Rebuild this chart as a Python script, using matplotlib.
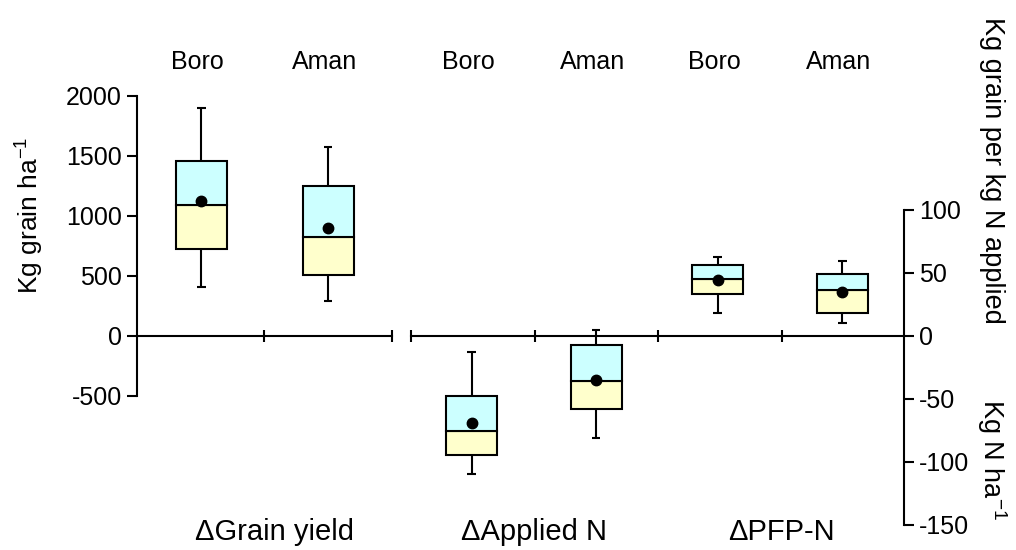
import matplotlib
matplotlib.use("Agg")
import matplotlib.pyplot as plt
from matplotlib.transforms import blended_transform_factory

plt.rcParams['font.family'] = ['Liberation Sans', 'DejaVu Sans']
plt.rcParams['mathtext.default'] = 'regular'

# ---- data ----
seasons = ["Boro", "Aman", "Boro", "Aman", "Boro", "Aman"]
groups = ["\u0394Grain yield", "\u0394Applied N", "\u0394PFP-N"]
# Grain yield (kg grain/ha, left axis)
gy_whislo = [408, 292]
gy_q1 = [725, 506]
gy_med = [1089, 825]
gy_q3 = [1458, 1250]
gy_whishi = [1900, 1575]
gy_mean = [1122, 895]
# Applied N (kg N/ha, right axis)
an_whislo = [-110, -81]
an_q1 = [-95, -58]
an_med = [-76, -36]
an_q3 = [-48, -7]
an_whishi = [-13, 4.5]
an_mean = [-69, -35]
# PFP-N (kg grain per kg N applied, right axis)
pf_whislo = [18, 10]
pf_q1 = [33, 18]
pf_med = [45, 36]
pf_q3 = [56, 49]
pf_whishi = [62.5, 59.5]
pf_mean = [44, 35]

left_ticks = [-500, 0, 500, 1000, 1500, 2000]
right_ticks = [-150, -100, -50, 0, 50, 100]

# ---- layout ----
centers = [0.516, 1.53, 2.68, 3.675, 4.65, 5.645]
divisions_a = [0, 1.02, 2.04]
divisions_b = [2.19, 3.19, 4.17, 5.16, 6.14]
group_x = [1.1, 3.18, 5.16]
box_w = 0.408
lw = 1.5
upper_c = '#CCFFFF'
lower_c = '#FFFFCC'
fs = 18

W, H = 1016, 550
fig = plt.figure(figsize=(W / 100, H / 100), dpi=100)
ax_left_px, ax_right_px = 137, 904
ax_top_px, ax_bot_px = 40, 545
zero_px = 335.7
ax = fig.add_axes([ax_left_px / W, 1 - ax_bot_px / H,
                   (ax_right_px - ax_left_px) / W, (ax_bot_px - ax_top_px) / H])
ax2 = ax.twinx()
ax.set_xlim(0, 6.14)
lpp = 500 / 60.0     # left units per pixel
rpp = 50 / 63.0      # right units per pixel
ax.set_ylim(-(ax_bot_px - zero_px) * lpp, (zero_px - ax_top_px) * lpp)
ax2.set_ylim(-(ax_bot_px - zero_px) * rpp, (zero_px - ax_top_px) * rpp)

for a in (ax, ax2):
    for s in ('top', 'bottom'):
        a.spines[s].set_visible(False)
    a.set_xticks([])
    a.patch.set_visible(False)
ax.spines['right'].set_visible(False)
ax2.spines['left'].set_visible(False)
ax.spines['left'].set_bounds(-500, 2000)
ax2.spines['right'].set_bounds(-150, 100)
ax.spines['left'].set_linewidth(lw)
ax2.spines['right'].set_linewidth(lw)
ax.set_yticks(left_ticks)
ax.set_yticklabels([str(t) for t in left_ticks])
ax2.set_yticks(right_ticks)
ax2.set_yticklabels([str(t) for t in right_ticks])
ax.tick_params(axis='y', direction='out', length=7, width=lw, labelsize=fs, pad=4)
ax2.tick_params(axis='y', direction='out', length=7, width=lw, labelsize=fs, pad=4)

# zero line segments with ticks
ax.plot([divisions_a[0], divisions_a[-1]], [0, 0], color='black', lw=lw, zorder=3)
ax.plot([divisions_b[0], divisions_b[-1]], [0, 0], color='black', lw=lw, zorder=3)
ax.plot(divisions_a[1:] + divisions_b[:-1], [0] * (len(divisions_a) - 1 + len(divisions_b) - 1),
        ls='none', marker='|', ms=9, mew=lw, color='black', zorder=3)


def draw_boxes(a, xs, lo, q1, med, q3, hi, mean):
    for i, x in enumerate(xs):
        a.vlines(x, hi[i], q3[i], color='black', lw=lw, zorder=2)
        a.vlines(x, lo[i], q1[i], color='black', lw=lw, zorder=2)
        a.hlines([hi[i], lo[i]], x - 0.035, x + 0.035, color='black', lw=lw, zorder=2)
        a.bar(x, med[i] - q1[i], bottom=q1[i], width=box_w, color=lower_c,
              edgecolor='black', linewidth=lw, zorder=3)
        a.bar(x, q3[i] - med[i], bottom=med[i], width=box_w, color=upper_c,
              edgecolor='black', linewidth=lw, zorder=3)
    a.plot(xs, mean, ls='none', marker='o', ms=7.5, color='black', zorder=4)


draw_boxes(ax, centers[0:2], gy_whislo, gy_q1, gy_med, gy_q3, gy_whishi, gy_mean)
draw_boxes(ax2, centers[2:4], an_whislo, an_q1, an_med, an_q3, an_whishi, an_mean)
draw_boxes(ax2, centers[4:6], pf_whislo, pf_q1, pf_med, pf_q3, pf_whishi, pf_mean)

# labels
tr = blended_transform_factory(ax.transData, fig.transFigure)
for x, s in zip(centers, seasons):
    ax.text(x - 0.03, 1 - 62 / H, s, transform=tr, ha='center', va='center', fontsize=fs)
for x, g in zip(group_x, groups):
    ax.text(x, 1 - 532 / H, g, transform=tr, ha='center', va='center', fontsize=21)

fig.text(30 / W, 1 - 215 / H, 'Kg grain ha$^{-1}$', rotation=90, ha='center', va='center',
         fontsize=19)
fig.text(992 / W, 1 - 170 / H, 'Kg grain per kg N applied', rotation=-90, ha='center',
         va='center', fontsize=19.5)
fig.text(992 / W, 1 - 460 / H, 'Kg N ha$^{-1}$', rotation=-90, ha='center', va='center',
         fontsize=19.5)

fig.savefig('out.png', dpi=100)
